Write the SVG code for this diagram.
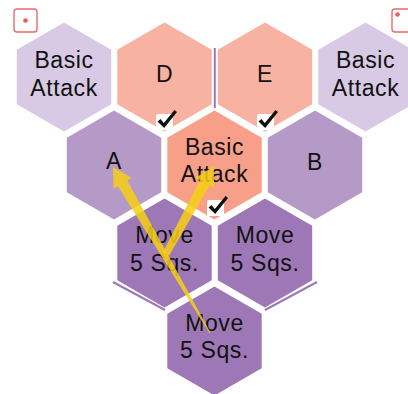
<svg xmlns="http://www.w3.org/2000/svg" xmlns:xlink="http://www.w3.org/1999/xlink" width="408" height="394" viewBox="0 0 408 394">
<style>
.t{font-family:"Liberation Sans",Arial,sans-serif;font-size:23px;fill:#111;text-anchor:middle;letter-spacing:0.6px}
.lt{fill:#d8c9e4}
.sal{fill:#f8b2a2}
.mid{fill:#f79f89}
.pu{fill:#b59ac8}
.dk{fill:#9e78b6}
.art{stroke:#9e78b6;stroke-width:2;fill:none}
.arrow{fill:#f6cf14;fill-opacity:0.85}
.cbox{fill:#fff}
.chk{fill:#111}
.ico{fill:#fff;stroke:#ea6a6e;stroke-width:1.4}
.dot{fill:#ee5a5e}
</style>
<defs>
<polygon id="hex" points="0,-54.5 47.2,-27.25 47.2,27.25 0,54.5 -47.2,27.25 -47.2,-27.25"/>
<g id="check">
<rect class="cbox" x="-9" y="-7" width="17" height="16" rx="2"/>
<path class="chk" d="M-7.5,0.5 L-4.5,-2 L-1.2,2 L9.5,-11 L12,-9 L-0.8,7 Z"/>
</g>
</defs>
<rect width="408" height="394" fill="#fff"/>

<g id="icon-left"><rect class="ico" x="14" y="9" width="23" height="23" rx="3"/><circle class="dot" cx="25.5" cy="20.5" r="2.3"/></g>
<g id="icon-right"><rect class="ico" x="392" y="9" width="23" height="23" rx="3"/><circle class="dot" cx="397.5" cy="14.5" r="2.3"/></g>

<g id="artifacts">
<line class="art" x1="214.8" y1="48" x2="214.8" y2="108"/>
<line class="art" x1="113" y1="282" x2="165" y2="310"/>
<line class="art" x1="265" y1="310" x2="317" y2="282"/>
</g>

<g id="node-basic-left"><use xlink:href="#hex" class="lt" x="64" y="77"/><text class="t" x="64" y="68">Basic</text><text class="t" x="64" y="96">Attack</text></g>
<g id="node-d"><use xlink:href="#hex" class="sal" x="164.5" y="77"/><text class="t" x="164.5" y="82">D</text></g>
<g id="node-e"><use xlink:href="#hex" class="sal" x="265" y="77"/><text class="t" x="265" y="82">E</text></g>
<g id="node-basic-right"><use xlink:href="#hex" class="lt" x="365.5" y="77"/><text class="t" x="365.5" y="68">Basic</text><text class="t" x="365.5" y="96">Attack</text></g>

<g id="node-a"><use xlink:href="#hex" class="pu" x="114" y="165"/><text class="t" x="114" y="169">A</text></g>
<g id="node-basic-mid"><use xlink:href="#hex" class="mid" x="214.5" y="165"/><text class="t" x="214.5" y="155">Basic</text><text class="t" x="214.5" y="182">Attack</text></g>
<g id="node-b"><use xlink:href="#hex" class="pu" x="315" y="165"/><text class="t" x="315" y="170">B</text></g>

<g id="node-move-left"><use xlink:href="#hex" class="dk" x="164.5" y="253"/><text class="t" x="164.5" y="243">Move</text><text class="t" x="164.5" y="271">5 Sqs.</text></g>
<g id="node-move-right"><use xlink:href="#hex" class="dk" x="265" y="253"/><text class="t" x="265" y="243">Move</text><text class="t" x="265" y="271">5 Sqs.</text></g>
<g id="node-move-bottom"><use xlink:href="#hex" class="dk" x="214.5" y="341"/><text class="t" x="214.5" y="331">Move</text><text class="t" x="214.5" y="358">5 Sqs.</text></g>

<g id="checks">
<use xlink:href="#check" x="165" y="121"/>
<use xlink:href="#check" x="266" y="121"/>
<use xlink:href="#check" x="216" y="207"/>
</g>

<g id="connectors">
<polygon class="arrow" points="113,167 131.7,178.1 127.3,180.6 210.5,332.7 209.5,333.3 117.9,186.2 113.5,188.7"/>
<polygon class="arrow" points="214,166 214.1,187.7 209.7,185.3 169.1,255.7 162.9,252.3 200.1,180.1 195.7,177.7"/>
</g>
</svg>
